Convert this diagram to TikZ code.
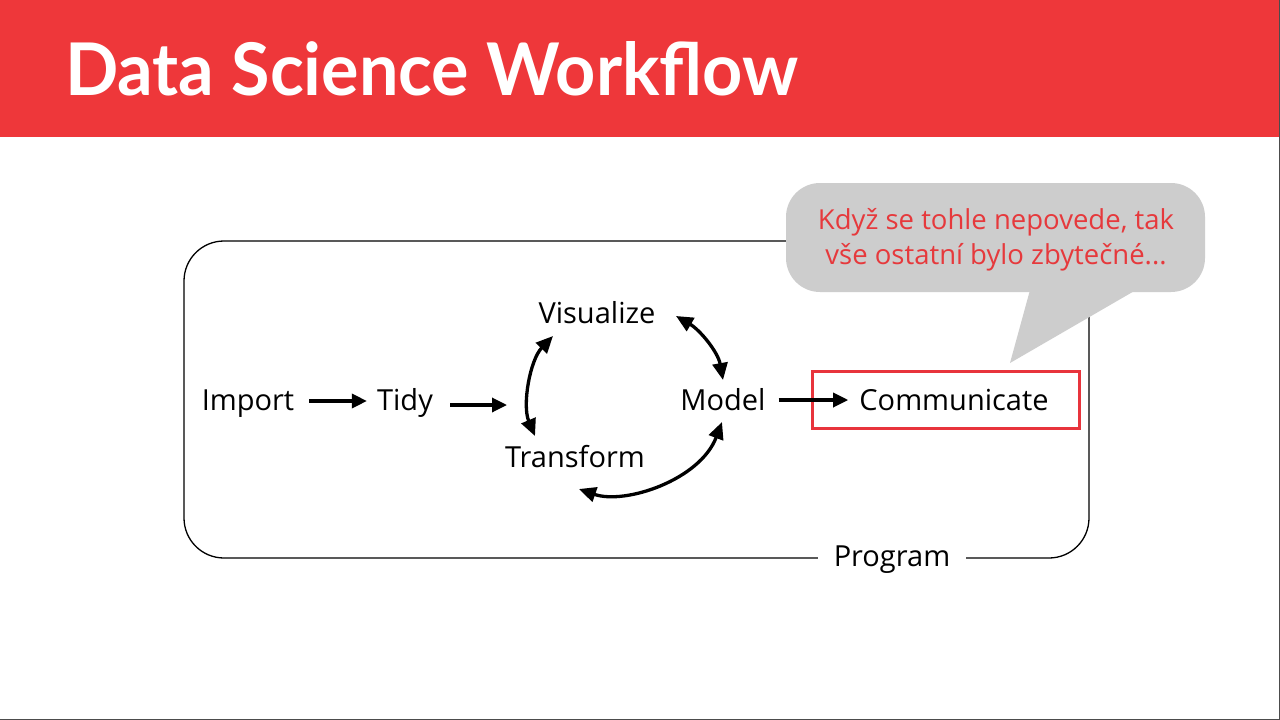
\documentclass[tikz,border=0pt]{standalone}
\usepackage{fontspec}
\setmainfont{Open Sans}
\newfontfamily\titlefont{Lato}
\newfontfamily\notefont{Open Sans}
\usetikzlibrary{arrows.meta}
\definecolor{hdrred}{RGB}{238,55,58}
\definecolor{boxred}{RGB}{232,52,60}
\definecolor{notegray}{RGB}{205,205,205}
\definecolor{notered}{RGB}{230,57,60}
\tikzset{
  lbl/.style={inner sep=0pt, anchor=base, font=\fontsize{29}{34}\selectfont},
  flow/.style={line width=3.3pt, -{Triangle[length=15pt,width=14pt]}},
  cyc/.style={line width=3.3pt, {Triangle[length=17pt,width=15pt]}-{Triangle[length=17pt,width=15pt]}},
}
\begin{document}
\begin{tikzpicture}[x=1pt,y=-1pt]
\useasboundingbox (0,0) rectangle (1280,720);
\fill[white] (0,0) rectangle (1280,720);
% header
\fill[hdrred] (0,0) rectangle (1280,137);
\node[inner sep=0pt, anchor=base west, text=white] (title) at (65,95)
  {\resizebox{733pt}{54pt}{\titlefont\bfseries Data Science Workflow}};
% program frame
\draw[line width=1.3pt, rounded corners=40pt] (184,241) rectangle (1089,558);
\node[lbl, fill=white, inner xsep=16pt, inner ysep=4pt] (prog) at (892,566) {Program};
% callout
\fill[notegray, rounded corners=34pt] (786,183) rectangle (1205,292);
\fill[notegray] (1030,290) -- (1010,363) -- (1136,290) -- cycle;
\node[align=center, text=notered, inner sep=0pt, font=\notefont\fontsize{27.5}{35}\selectfont] (note) at (996,240)
  {Když se tohle nepovede, tak\\vše ostatní bylo zbytečné...};
% nodes
\node[lbl] (imp) at (248,410) {Import};
\node[lbl] (tidy) at (405,410) {Tidy};
\node[lbl] (vis) at (597,323) {Visualize};
\node[lbl] (model) at (723,410) {Model};
\node[lbl] (trans) at (575,467) {Transform};
\node[draw=boxred, line width=3pt, minimum width=267pt, minimum height=57pt, inner sep=0pt] (commbox) at (945.5,399.5) {};
\node[lbl] (comm) at (954,410) {Communicate};
% connectors
\coordinate (cycin) at (507,405);
\coordinate (vs) at (553,336);
\coordinate (ts) at (535,436);
\coordinate (vm) at (676,316);
\coordinate (mv) at (723,380);
\coordinate (mt) at (722,422);
\coordinate (tm) at (579,489);
\draw[flow] ([xshift=15pt,yshift=9pt]imp.base east) -- ([xshift=-10pt,yshift=9pt]tidy.base west);
\draw[flow] ([xshift=17pt,yshift=5pt]tidy.base east) -- (cycin);
\draw[cyc] (vs) .. controls (530,360) and (522,405) .. (ts);
\draw[cyc] (vm) .. controls (700,330) and (718,352) .. (mv);
\draw[cyc] (mt) .. controls (700,480) and (625,505) .. (tm);
\draw[flow] ([xshift=13pt,yshift=10pt]model.base east) -- ([xshift=-11pt,yshift=10pt]comm.base west);
% screen edge
\draw[line width=1.5pt, gray!60!black] (1279.4,0) -- (1279.4,719.4) -- (0,719.4);
\end{tikzpicture}
\end{document}
